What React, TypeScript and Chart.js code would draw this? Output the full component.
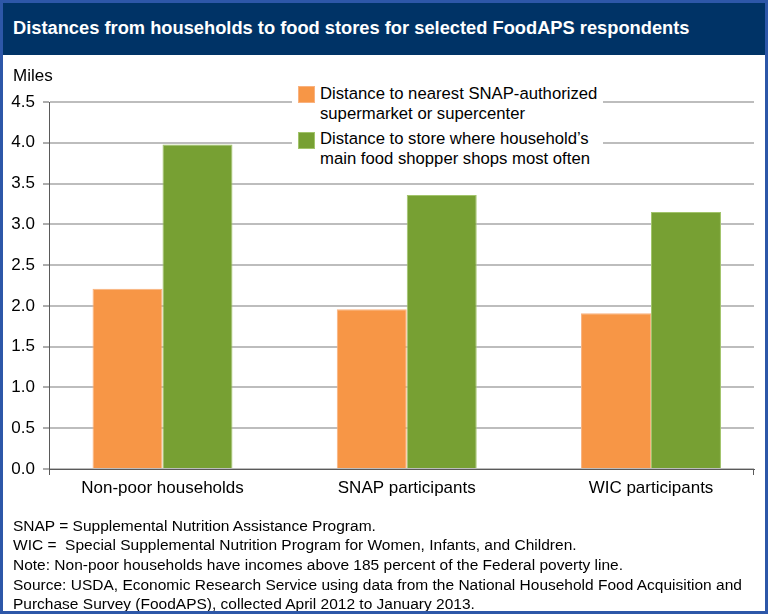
import React, { useEffect, useRef } from "react";
import { Chart, registerables } from "chart.js";

Chart.register(...registerables);

const categories = ["Non-poor households", "SNAP participants", "WIC participants"];
const nearestSupermarket = [2.21, 1.96, 1.91];
const mainStore = [3.98, 3.36, 3.15];
const seriesNames = [
  ["Distance to nearest SNAP-authorized", "supermarket or supercenter"],
  ["Distance to store where household\u2019s", "main food shopper shops most often"],
];
const yMin = 0;
const yMax = 4.5;
const yStep = 0.5;
const xMin = -0.4647;
const xMax = 2.4217;
const notes = [
  "SNAP = Supplemental Nutrition Assistance Program.",
  "WIC =  Special Supplemental Nutrition Program for Women, Infants, and Children.",
  "Note: Non-poor households have incomes above 185 percent of the Federal poverty line.",
  "Source: USDA, Economic Research Service using data from the National Household Food Acquisition and",
  "Purchase Survey (FoodAPS), collected April 2012 to January 2013.",
];
const title = "Distances from households to food stores for selected FoodAPS respondents";

const ORANGE = "#F79646";
const GREEN = "#77A033";
const AXIS = "#5a5a5a";
const FONT = "'Liberation Sans', Arial, Helvetica, sans-serif";

const axisEndTicks = {
  id: "axisEndTicks",
  afterDraw(chart: any) {
    const { ctx, chartArea } = chart;
    ctx.save();
    ctx.strokeStyle = AXIS;
    ctx.lineWidth = 1;
    ctx.beginPath();
    const l = Math.round(chartArea.left) + 0.5;
    const r = Math.round(chartArea.right) - 0.5;
    const b = chartArea.bottom;
    ctx.moveTo(l, b);
    ctx.lineTo(l, b + 6);
    ctx.moveTo(r, b);
    ctx.lineTo(r, b + 6);
    ctx.stroke();
    ctx.restore();
  },
};

export default function App() {
  const canvasRef = useRef<HTMLCanvasElement | null>(null);

  useEffect(() => {
    document.body.style.margin = "0";
    const canvas = canvasRef.current;
    if (!canvas) return;
    const chart = new Chart(canvas, {
      type: "bar",
      data: {
        datasets: [
          {
            label: seriesNames[0].join(" "),
            data: nearestSupermarket.map((y, i) => ({ x: i, y })),
            backgroundColor: ORANGE,
            borderColor: "#F9B27F",
            borderWidth: 1,
            borderSkipped: "bottom",
            barPercentage: 1,
            categoryPercentage: 0.573,
          },
          {
            label: seriesNames[1].join(" "),
            data: mainStore.map((y, i) => ({ x: i, y })),
            backgroundColor: GREEN,
            borderColor: "#A2C46B",
            borderWidth: 1,
            borderSkipped: "bottom",
            barPercentage: 1,
            categoryPercentage: 0.573,
          },
        ],
      },
      options: {
        responsive: false,
        animation: false,
        devicePixelRatio: 1,
        layout: { padding: { top: 102, right: 14, bottom: 104, left: 0 } },
        plugins: {
          legend: { display: false },
          title: { display: false },
          tooltip: { enabled: false },
        },
        scales: {
          x: {
            type: "linear",
            offset: false,
            bounds: "data",
            min: xMin,
            max: xMax,
            afterDataLimits: (scale: any) => {
              scale.min = xMin;
              scale.max = xMax;
            },
            afterBuildTicks: (scale: any) => {
              scale.ticks = categories.map((_, i) => ({ value: i }));
            },
            afterFit: (scale: any) => {
              scale.height = 41;
            },
            grid: { display: false, drawTicks: false, offset: false },
            border: { display: true, color: AXIS, width: 1 },
            ticks: {
              autoSkip: false,
              maxRotation: 0,
              padding: 9,
              color: "#000",
              font: { family: FONT, size: 17 },
              callback: (v: any) => categories[Number(v)] ?? "",
            },
          },
          y: {
            min: yMin,
            max: yMax,
            afterFit: (scale: any) => {
              scale.width = 49;
            },
            grid: {
              color: "#BDBDBD",
              lineWidth: 2,
              tickColor: AXIS,
              tickWidth: 1,
              tickLength: 6,
              drawTicks: true,
            },
            border: { display: true, color: AXIS, width: 1 },
            ticks: {
              stepSize: yStep,
              padding: 8,
              color: "#000",
              font: { family: FONT, size: 17 },
              callback: (v: any) => Number(v).toFixed(1),
            },
          },
        },
      },
      plugins: [axisEndTicks],
    });
    return () => chart.destroy();
  }, []);

  const legendItemTop = [83.6, 129.3];
  const colors = [ORANGE, GREEN];
  const borders = ["#F9B27F", "#A2C46B"];

  return (
    <div
      style={{
        position: "relative",
        width: 768,
        height: 614,
        background: "#fff",
        overflow: "hidden",
        fontFamily: FONT,
      }}
    >
      <canvas
        ref={canvasRef}
        width={768}
        height={614}
        style={{ position: "absolute", left: 0, top: 0, width: 768, height: 614 }}
      />
      <div
        style={{
          position: "absolute",
          left: 0,
          top: 0,
          width: 768,
          height: 55,
          background: "#003366",
          color: "#fff",
          fontWeight: "bold",
          fontSize: 18.3,
          display: "flex",
          alignItems: "center",
          paddingLeft: 13,
          paddingTop: 1,
          boxSizing: "border-box",
          whiteSpace: "nowrap",
        }}
      >
        {title}
      </div>
      <div
        style={{
          position: "absolute",
          left: 13,
          top: 65.8,
          fontSize: 17,
          lineHeight: "20px",
          color: "#000",
        }}
      >
        Miles
      </div>
      <div
        style={{
          position: "absolute",
          left: 292,
          top: 80,
          width: 311,
          height: 95,
          background: "#fff",
        }}
      >
        {seriesNames.map((lines, i) => (
          <div key={i}>
            <div
              style={{
                position: "absolute",
                left: 6,
                top: legendItemTop[i] - 80 + 2.4,
                width: 17,
                height: 17,
                background: colors[i],
                boxSizing: "border-box",
                border: `1px solid ${borders[i]}`,
              }}
            />
            <div
              style={{
                position: "absolute",
                left: 28,
                top: legendItemTop[i] - 80,
                fontSize: 16.7,
                lineHeight: "20px",
                color: "#000",
                whiteSpace: "nowrap",
              }}
            >
              {lines.map((l, j) => (
                <div key={j}>{l}</div>
              ))}
            </div>
          </div>
        ))}
      </div>
      <div
        style={{
          position: "absolute",
          left: 13,
          top: 515.8,
          fontSize: 15.5,
          lineHeight: "19.6px",
          color: "#000",
          whiteSpace: "pre",
        }}
      >
        {notes.map((n, i) => (
          <div key={i}>{n}</div>
        ))}
      </div>
      <div
        style={{
          position: "absolute",
          left: 0,
          top: 0,
          width: 768,
          height: 614,
          boxSizing: "border-box",
          border: "3px solid #2D57A8",
          pointerEvents: "none",
        }}
      />
    </div>
  );
}
